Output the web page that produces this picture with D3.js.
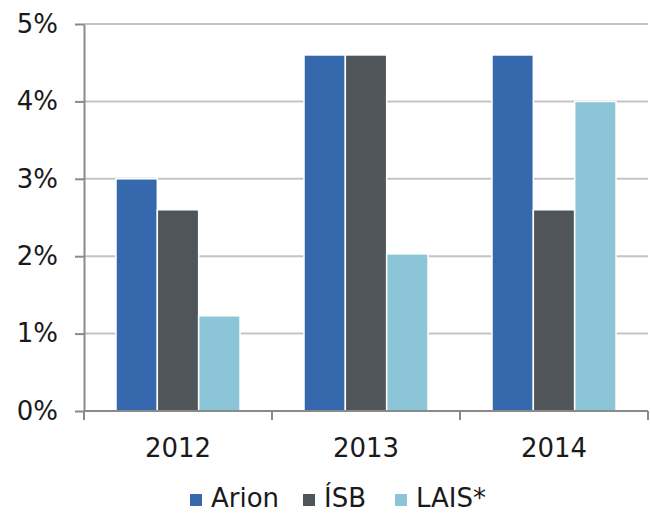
<html>
<head>
    <meta charset="utf-8">
    <style>
        body { margin: 0; background: #fff; }
        text { font-family: "DejaVu Sans", Verdana, sans-serif; fill: #1a1a1a; }
        .grid line { stroke: #c4c4c4; stroke-width: 2px; }
        .axis path, .axis line { stroke: #8a8a8a; stroke-width: 2px; }
    </style>
</head>
<body>
    <svg id="container" width="650" height="514"></svg>
</body>
<script src="https://cdn.jsdelivr.net/npm/d3@7"></script>
<script>
    const years = ["2012", "2013", "2014"]
    const seriesNames = ["Arion", "ÍSB", "LAIS*"]
    const arion = [3.0, 4.6, 4.6]
    const isb = [2.6, 4.6, 2.6]
    const lais = [1.23, 2.03, 4.0]
    const yTicks = [0, 1, 2, 3, 4, 5]
    const colors = ["#3668ae", "#50555a", "#8cc4d8"]

    let svg = d3.select("#container")
    let plotLeft = 84, plotRight = 648, plotTop = 24, plotBottom = 411

    let data = years.map((y, i) => ({
        year: y,
        values: [arion[i], isb[i], lais[i]]
    }))

    let xScale = d3.scaleBand().domain(years).range([plotLeft, plotRight])
    let xInner = d3.scaleBand().domain(seriesNames).range([32, xScale.bandwidth() - 32])
    let yScale = d3.scaleLinear().domain([0, 5]).range([plotBottom, plotTop])

    // gridlines
    svg.append("g")
        .attr("class", "grid")
        .selectAll("line")
        .data(yTicks.slice(1))
        .enter().append("line")
        .attr("x1", plotLeft).attr("x2", plotRight)
        .attr("y1", d => yScale(d)).attr("y2", d => yScale(d))

    // bars
    let groups = svg.append("g").selectAll("g")
        .data(data)
        .enter().append("g")
        .attr("transform", d => `translate(${xScale(d.year)},0)`)

    groups.selectAll("rect")
        .data(d => d.values.map((v, i) => ({ name: seriesNames[i], value: v, i: i })))
        .enter().append("rect")
        .attr("x", d => xInner(d.name))
        .attr("width", xInner.bandwidth())
        .attr("y", d => yScale(d.value))
        .attr("height", d => plotBottom - yScale(d.value))
        .attr("fill", d => colors[d.i])
        .attr("stroke", "#fff")
        .attr("stroke-width", 1.5)

    // y axis
    let yAxis = svg.append("g")
        .attr("class", "axis")
        .attr("transform", `translate(${plotLeft},0)`)
        .call(d3.axisLeft(yScale)
            .tickValues(yTicks)
            .tickSize(9)
            .tickPadding(17)
            .tickSizeOuter(0)
            .tickFormat(d => d + "%"))
    yAxis.selectAll("text").style("font-size", "26px").attr("fill", "#1a1a1a")

    // x axis, ticks at category boundaries
    let xAxis = svg.append("g")
        .attr("class", "axis")
        .attr("transform", `translate(0,${plotBottom})`)
    xAxis.append("line").attr("x1", plotLeft).attr("x2", plotRight)
    xAxis.selectAll(".tk")
        .data(years.concat(["end"]))
        .enter().append("line")
        .attr("class", "tk")
        .attr("x1", (d, i) => plotLeft + i * xScale.step())
        .attr("x2", (d, i) => plotLeft + i * xScale.step())
        .attr("y1", 0).attr("y2", 9)
    xAxis.selectAll("text")
        .data(years)
        .enter().append("text")
        .attr("x", d => xScale(d) + xScale.bandwidth() / 2)
        .attr("y", 46)
        .attr("text-anchor", "middle")
        .style("font-size", "26px")
        .text(d => d)

    // legend
    let legendX = [190, 303, 395]
    let legend = svg.append("g").selectAll("g")
        .data(seriesNames)
        .enter().append("g")
        .attr("transform", (d, i) => `translate(${legendX[i]},494)`)
    legend.append("rect")
        .attr("width", 12).attr("height", 12)
        .attr("fill", (d, i) => colors[i])
    legend.append("text")
        .attr("x", 21).attr("y", 13)
        .style("font-size", "26px")
        .text(d => d)
</script>
</html>
